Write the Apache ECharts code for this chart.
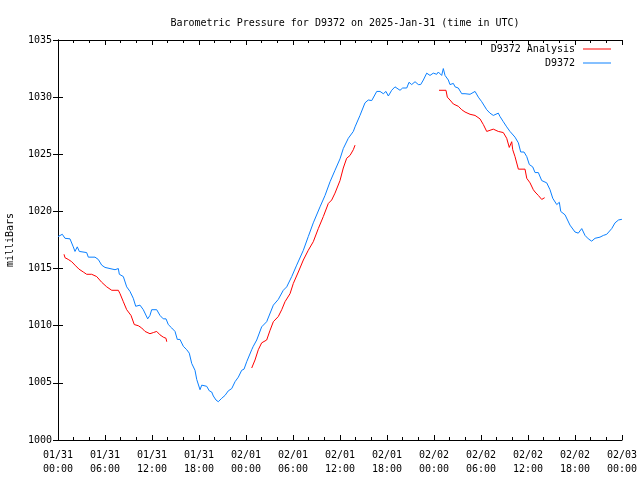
<!DOCTYPE html>
<html>
<head>
<meta charset="utf-8">
<script src="https://cdn.jsdelivr.net/npm/echarts@6/dist/echarts.min.js"></script>
<style>html,body{margin:0;padding:0;background:#fff}#c{width:640px;height:480px}</style>
</head>
<body>
<div id="c"></div>
<script>
// hours since 2025-01-31 00:00 UTC
const blueHours = [0,0.55,0.89,1.53,1.95,2.17,2.46,2.72,3.66,3.87,4.72,5.14,5.58,6.0,6.64,7.28,7.70,7.83,8.34,8.77,
9.19,9.61,9.92,10.47,10.89,11.45,11.74,11.96,12.6,12.8,13.02,13.44,13.79,14.08,14.52,14.94,15.23,15.57,16.0,16.43,
16.76,17.07,17.49,17.71,18.13,18.35,18.55,18.98,19.32,19.62,19.83,20.17,20.46,20.9,21.32,21.74,22.18,22.6,23.02,23.45,
23.75,24.09,24.73,24.93,25.37,26.0,26.64,27.49,28.12,28.76,29.2,29.84,30.47,31.32,31.95,32.59,33.45,34.09,34.73,35.36,
36.0,36.42,37.06,37.7,37.92,38.55,39.19,39.61,40.05,40.69,41.11,41.53,41.87,42.17,42.6,43.02,43.66,44.0,44.52,44.81,
45.15,45.58,46.0,46.3,46.64,47.07,47.49,47.91,48.35,48.55,48.98,49.19,49.41,49.83,50.04,50.47,50.69,51.1,51.54,51.96,
52.6,53.24,53.66,54.09,54.73,55.15,55.57,56.21,56.43,56.85,57.28,57.7,58.34,58.77,59.07,59.49,59.84,60.17,60.6,60.9,
61.32,61.75,62.39,62.81,63.16,63.67,64.0,64.18,64.73,65.36,66.0,66.42,66.86,67.28,67.7,68.13,68.56,69.19,69.62,70.05,
70.69,71.11,71.55,71.9,72.0];
const blueValues = [1017.8,1018.0,1017.65,1017.6,1016.9,1016.5,1016.9,1016.5,1016.4,1016.0,1016.0,1015.8,1015.3,1015.1,1015.0,1014.9,1015.0,1014.5,1014.3,1013.4,
1013.0,1012.4,1011.7,1011.8,1011.4,1010.6,1010.9,1011.4,1011.4,1011.5,1010.9,1010.6,1010.6,1010.1,1009.8,1009.5,1008.8,1008.8,1008.2,1007.9,
1007.6,1006.7,1006.1,1005.3,1004.4,1004.8,1004.7,1004.7,1004.3,1004.2,1003.85,1003.5,1003.35,1003.65,1003.9,1004.3,1004.5,1005.1,1005.5,1006.1,
1006.2,1006.85,1007.9,1008.2,1008.75,1009.9,1010.35,1011.8,1012.3,1013.1,1013.4,1014.3,1015.3,1016.6,1017.8,1019.0,1020.4,1021.4,1022.6,1023.6,
1024.6,1025.5,1026.4,1027.0,1027.4,1028.4,1029.5,1029.75,1029.7,1030.5,1030.5,1030.3,1030.5,1030.1,1030.6,1030.9,1030.6,1030.8,1030.8,1031.3,
1031.1,1031.35,1031.1,1031.1,1031.5,1032.1,1031.9,1032.1,1032.0,1032.2,1031.9,1032.5,1031.9,1031.5,1031.1,1031.2,1030.9,1030.8,1030.3,1030.3,
1030.25,1030.5,1030.0,1029.6,1028.9,1028.6,1028.4,1028.6,1028.3,1027.85,1027.4,1027.0,1026.5,1026.0,1025.2,1025.2,1024.8,1024.1,1023.9,1023.4,
1023.4,1022.7,1022.5,1021.9,1021.15,1020.6,1020.8,1020.0,1019.7,1018.8,1018.2,1018.1,1018.5,1017.9,1017.6,1017.4,1017.65,1017.75,1017.9,1018.0,
1018.5,1019.0,1019.25,1019.3,1019.3];

const analysisHours1 = [0.77,0.89,1.31,1.75,2.17,2.68,3.23,3.66,4.3,4.94,5.58,6.22,6.86,7.7,7.92,8.34,8.77,9.32,9.74,10.25,10.69,11.11,11.74,12.17,12.6,12.8,13.02,13.44,13.79,13.88];
const analysisValues1 = [1016.25,1015.95,1015.8,1015.6,1015.3,1014.95,1014.7,1014.5,1014.5,1014.3,1013.8,1013.4,1013.1,1013.1,1012.8,1012.1,1011.4,1010.9,1010.1,1010.0,1009.8,1009.5,1009.3,1009.4,1009.5,1009.6,1009.2,1009.0,1008.9,1008.6];

const analysisHours2 = [24.73,25.15,25.57,26.0,26.64,27.07,27.49,28.12,28.56,28.98,29.62,30.04,30.68,31.32,31.95,32.59,33.23,33.87,34.51,34.94,35.36,36.0,36.42,36.85,37.28,37.7,37.92];
const analysisValues2 = [1006.3,1007.0,1007.9,1008.5,1008.75,1009.6,1010.35,1010.8,1011.4,1012.1,1012.8,1013.7,1014.7,1015.75,1016.6,1017.35,1018.5,1019.55,1020.7,1021.0,1021.6,1022.7,1023.8,1024.65,1024.9,1025.4,1025.8];

const analysisHours3 = [48.64,49.53,49.7,50.04,50.47,51.1,51.54,51.96,52.6,53.24,53.87,54.3,54.73,54.94,55.57,56.21,56.85,57.28,57.61,57.92,58.05,58.34,58.77,59.62,59.84,60.26,60.68,60.9,61.32,61.75,61.96,62.13];
const analysisValues3 = [1030.6,1030.6,1030.0,1029.75,1029.4,1029.2,1028.9,1028.7,1028.5,1028.4,1028.1,1027.6,1027.0,1027.1,1027.2,1027.0,1026.9,1026.4,1025.6,1026.1,1025.4,1024.8,1023.7,1023.7,1022.9,1022.5,1021.9,1021.7,1021.4,1021.05,1021.2,1021.2];

const xTickLabels = ['01/31\n00:00','01/31\n06:00','01/31\n12:00','01/31\n18:00','02/01\n00:00','02/01\n06:00','02/01\n12:00','02/01\n18:00','02/02\n00:00','02/02\n06:00','02/02\n12:00','02/02\n18:00','02/03\n00:00'];

const titleText = 'Barometric Pressure for D9372 on 2025-Jan-31 (time in UTC)';
const seriesNames = ['D9372 Analysis', 'D9372'];
const FONT = 'DejaVu Sans Mono';

function zip(a, b) { return a.map((v, i) => [v, b[i]]); }

const chart = echarts.init(document.getElementById('c'), null, {renderer: 'canvas'});

const axisLine = {show: true, lineStyle: {color: '#000', width: 1}};
const xBase = {
  type: 'value', min: 0, max: 72, interval: 6,
  axisLine: axisLine,
  axisTick: {show: true, inside: true, length: 5, lineStyle: {color: '#000'}},
  minorTick: {show: true, splitNumber: 3, length: 3, lineStyle: {color: '#000'}},
  splitLine: {show: false}, minorSplitLine: {show: false}
};
const yBase = {
  type: 'value', min: 1000, max: 1035, interval: 5,
  axisLine: axisLine,
  axisTick: {show: true, inside: true, length: 5, lineStyle: {color: '#000'}},
  splitLine: {show: false}
};

const redStyle = {type: 'line', name: seriesNames[0], showSymbol: false, symbol: 'none',
  lineStyle: {color: '#ff0000', width: 1}, itemStyle: {color: '#ff0000'}, xAxisIndex: 0, yAxisIndex: 0, z: 2};

chart.setOption({
  animation: false,
  backgroundColor: '#fff',
  title: {
    text: titleText, left: 340, top: 13, textAlign: 'center',
    textStyle: {fontFamily: FONT, fontSize: 10, fontWeight: 'normal', color: '#000'}
  },
  legend: {
    data: seriesNames, orient: 'vertical', right: 29, top: 44, align: 'right',
    padding: 0, itemGap: 4, itemWidth: 28, itemHeight: 11, icon: 'path://M0,5 L28,5 L28,6 L0,6 Z',
    textStyle: {fontFamily: FONT, fontSize: 10, color: '#000', padding: [0, 3, 0, 0]}
  },
  grid: {left: 58, right: 18, top: 40, bottom: 40, containLabel: false, outerBoundsMode: 'none'},
  xAxis: [
    Object.assign({}, xBase, {
      position: 'bottom',
      axisLabel: {show: true, margin: 8, fontFamily: FONT, fontSize: 10, color: '#000', lineHeight: 14,
        formatter: function (v) { return xTickLabels[Math.round(v / 6)]; }}
    }),
    Object.assign({}, xBase, {position: 'top', axisLabel: {show: false}})
  ],
  yAxis: [
    Object.assign({}, yBase, {
      position: 'left',
      name: 'milliBars', nameLocation: 'middle', nameRotate: 90, nameGap: 43,
      nameTextStyle: {fontFamily: FONT, fontSize: 10, color: '#000'},
      axisLabel: {show: true, margin: 6, fontFamily: FONT, fontSize: 10, color: '#000',
        formatter: function (v) { return String(v); }}
    }),
    Object.assign({}, yBase, {position: 'right', axisLabel: {show: false}})
  ],
  series: [
    Object.assign({}, redStyle, {data: zip(analysisHours1, analysisValues1)}),
    Object.assign({}, redStyle, {data: zip(analysisHours2, analysisValues2)}),
    Object.assign({}, redStyle, {data: zip(analysisHours3, analysisValues3)}),
    {type: 'line', name: seriesNames[1], showSymbol: false, symbol: 'none',
      lineStyle: {color: '#0a80ff', width: 1}, itemStyle: {color: '#0a80ff'},
      data: zip(blueHours, blueValues), z: 3}
  ]
});
</script>
</body>
</html>
